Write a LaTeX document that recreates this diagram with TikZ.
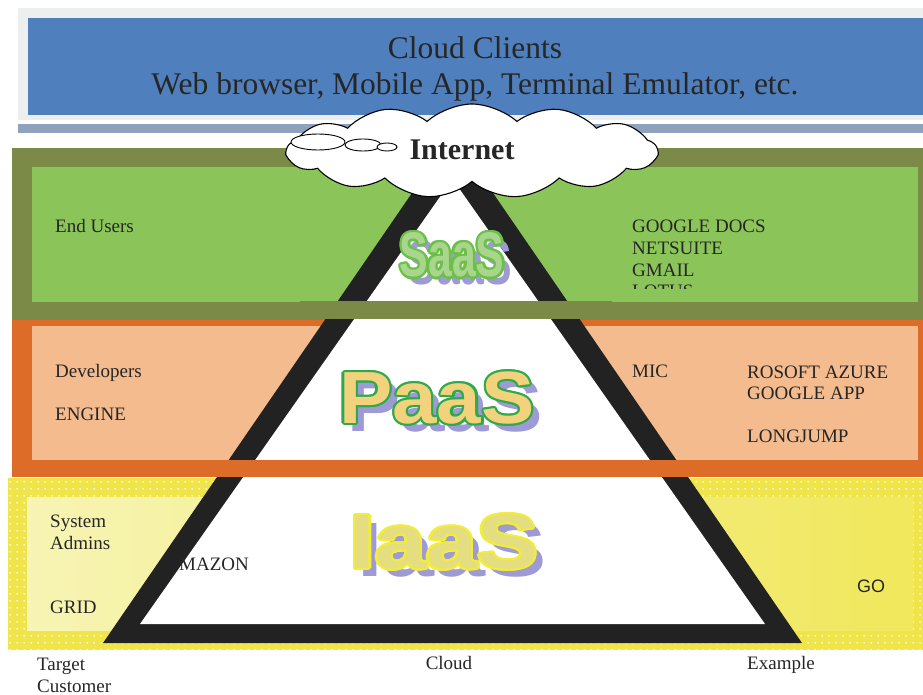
\documentclass[tikz,border=0pt]{standalone}
\usepackage{fontspec}
\setmainfont{Liberation Serif}
\newfontfamily\tierfont{Liberation Sans}
\usetikzlibrary{shapes.symbols,patterns.meta}

\definecolor{ink}{HTML}{262626}
\definecolor{paper}{HTML}{EDEFEF}
\definecolor{sky}{HTML}{4F80BD}
\definecolor{mist}{HTML}{8EA2BE}
\definecolor{olive}{HTML}{7C8A47}
\definecolor{leaf}{HTML}{8BC55A}
\definecolor{rust}{HTML}{DC6C28}
\definecolor{peach}{HTML}{F4BB8F}
\definecolor{lemon}{HTML}{EFE54A}
\definecolor{paleyel}{HTML}{F7F4B4}
\definecolor{coal}{HTML}{222222}
\definecolor{haze}{HTML}{9D9AD6}
\definecolor{saasface}{HTML}{A9D68C}
\definecolor{saasrim}{HTML}{6CC04A}
\definecolor{paasface}{HTML}{F2D27C}
\definecolor{paasrim}{HTML}{2FAA4B}
\definecolor{iaasface}{HTML}{E4DE80}
\definecolor{iaasrim}{HTML}{F2EC3A}

% small white dots on the yellow border
\tikzdeclarepattern{
  name=sparsedots, type=uncolored,
  bounding box={(0pt,0pt) and (7pt,7pt)},
  tile size={(7pt,7pt)},
  code={\fill (3.5pt,3.5pt) circle (1pt);}
}

\begin{document}
\begin{tikzpicture}[
    x=1pt, y=-1pt,
    lbl/.style={font=\fontsize{19}{22}\selectfont, text=ink, inner sep=0pt, anchor=base west},
    head/.style={font=\fontsize{31.5}{36}\selectfont, text=ink, inner sep=0pt, anchor=base},
    tier/.style={inner sep=0pt, font=\tierfont\bfseries\fontsize{#1}{#1}\selectfont}
  ]
  \useasboundingbox (0,0) rectangle (923,695);

  % clients bar
  \fill[paper] (18,8) rectangle (923,120);
  \fill[sky] (28,18) rectangle (923,115);
  \fill[mist] (18,124) rectangle (923,133);
  \node[head] (clients) at (475,59) {Cloud Clients};
  \node[head] (devices) at (475,95) {Web browser, Mobile App, Terminal Emulator, etc.};

  % the three bands
  \fill[olive] (12,148) rectangle (923,320);
  \fill[leaf] (32,167) rectangle (918,302);
  \fill[rust] (12,320) rectangle (923,477);
  \fill[peach] (32,326) rectangle (918,460);
  \fill[lemon] (8,478) rectangle (923,650);
  \fill[pattern=sparsedots, pattern color=white] (8,478) rectangle (923,650);
  \shade[left color=paleyel, right color=lemon!90!white] (27,497) rectangle (913,630);

  % pyramid
  \fill[coal] (452.5,134) -- (103,643) -- (802,643) -- cycle;
  \fill[white] (452.5,179) -- (140,624) -- (765,624) -- cycle;
  % band edges run over it
  \fill[olive] (300,301) rectangle (612,319);
  \fill[rust] (205,460) rectangle (705,477);

  % internet cloud
  \node[cloud, cloud puffs=13, cloud puff arc=85, cloud ignores aspect,
        minimum width=370pt, minimum height=94pt,
        draw=black, line width=1.1pt, fill=white, inner sep=0pt] (net) at (472,151) {};
  \draw[line width=0.9pt, fill=white] (318,142) ellipse [x radius=27, y radius=8];
  \draw[line width=0.9pt, fill=white] (363,145) ellipse [x radius=18, y radius=6];
  \draw[line width=0.9pt, fill=white] (387,147) ellipse [x radius=10, y radius=4];
  \node[font=\bfseries\fontsize{30}{34}\selectfont, text=ink, inner sep=0pt, anchor=base] (inet) at (462,160) {Internet};

  % layer names
  \foreach \word/\pos/\size/\sx/\face/\rim in {
      SaaS/{452,255}/63/0.68/saasface/saasrim,
      PaaS/{437,398}/74/1.08/paasface/paasrim,
      IaaS/{444,542}/77/1.19/iaasface/iaasrim} {
    \node[tier=\size, text=haze] at ([shift={(8,8)}]\pos) {\scalebox{\sx}[1]{\word}};
    \foreach \a in {0,30,...,330}
      \node[tier=\size, text=\rim] at ([shift={(\a:2.4)}]\pos) {\scalebox{\sx}[1]{\word}};
    \node[tier=\size, text=\face] (\word) at (\pos) {\scalebox{\sx}[1]{\word}};
  }

  % saas row
  \node[lbl] (endusers) at (55,232) {End Users};
  \node[lbl] (docs) at (632,232) {GOOGLE DOCS};
  \node[lbl] (netsuite) at (632,254) {NETSUITE};
  \node[lbl] (gmail) at (632,276) {GMAIL};
  \begin{scope}
    \clip (620,200) rectangle (800,288);
    \node[lbl] (lotus) at (632,297) {LOTUS};
  \end{scope}

  % paas row
  \node[lbl] (devs) at (55,377) {Developers};
  \node[lbl] (engine) at (55,420) {ENGINE};
  \node[lbl] (mic) at (632,377) {MIC};
  \node[lbl] (azure) at (747,378) {ROSOFT AZURE};
  \node[lbl] (gapp) at (747,399) {GOOGLE APP};
  \node[lbl] (longjump) at (747,442) {LONGJUMP};

  % iaas row
  \node[lbl] (system) at (50,527) {System};
  \node[lbl] (admins) at (50,549) {Admins};
  \node[lbl] (grid) at (50,613) {GRID};
  \node[lbl] (amazon) at (179,570) {MAZON};
  \node[lbl, font=\tierfont\fontsize{18}{20}\selectfont] (go) at (857,592) {GO};

  % column heads
  \node[lbl] (target) at (37,670) {Target};
  \node[lbl] (customer) at (37,692) {Customer};
  \node[lbl, anchor=base] (cloudcol) at (449,669) {Cloud};
  \node[lbl] (example) at (747,669) {Example};
\end{tikzpicture}
\end{document}
